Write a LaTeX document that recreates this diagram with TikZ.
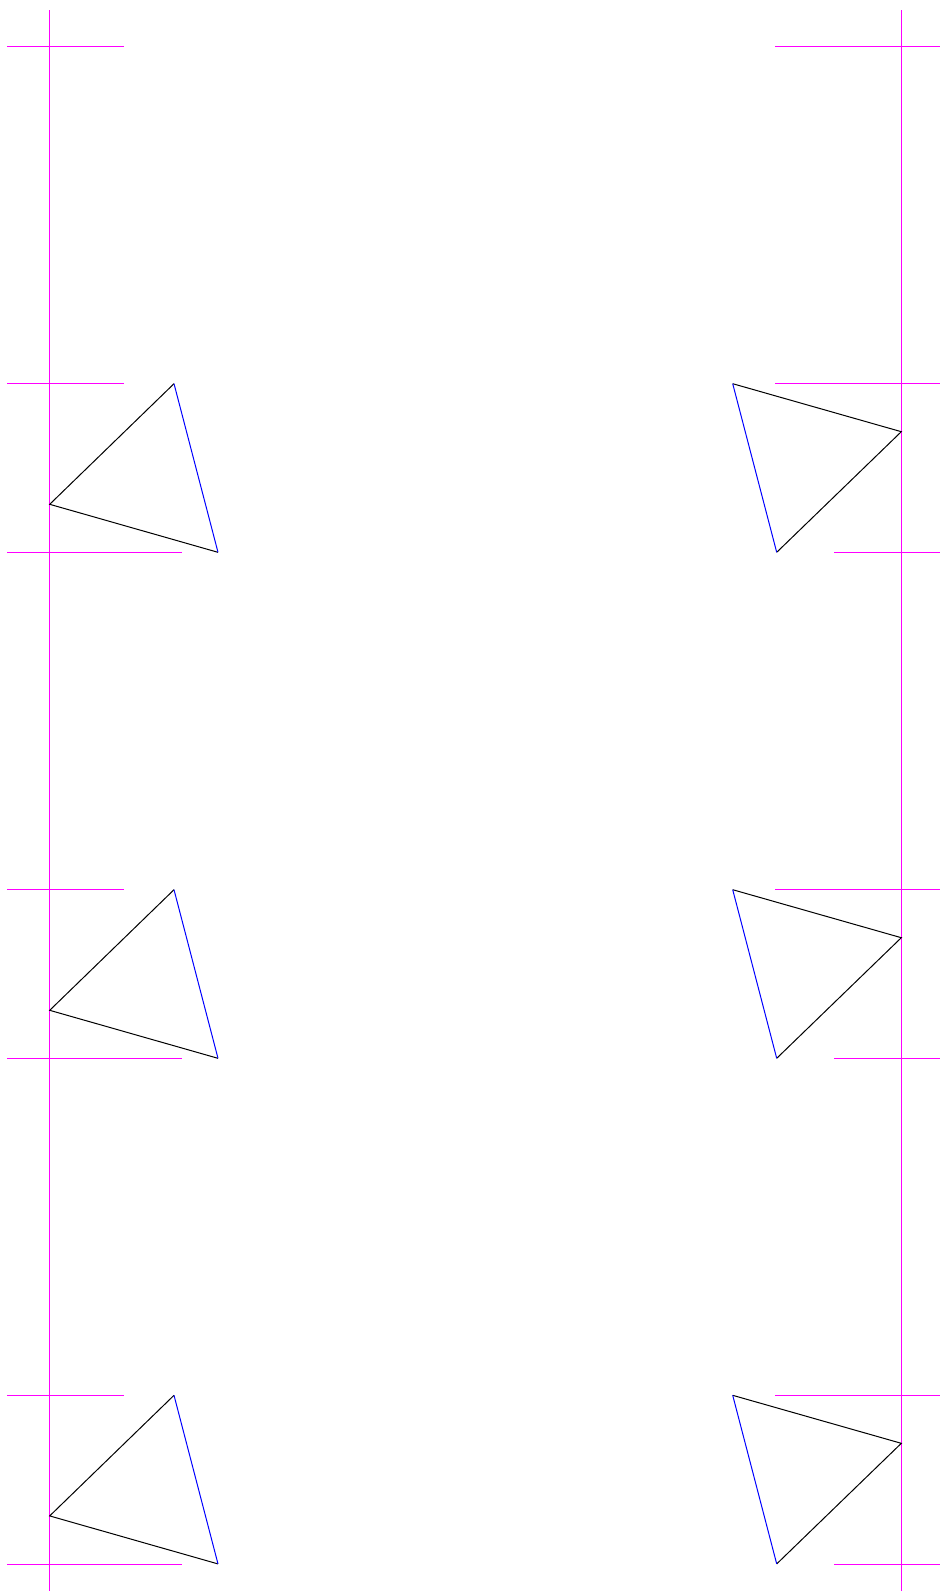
\documentclass[tikz,border=0pt]{standalone}
\usepackage{tikz}
\definecolor{guidepink}{RGB}{255,0,255}
\definecolor{hingeblue}{RGB}{0,0,255}

\begin{document}
\begin{tikzpicture}[x=0.02cm,y=-0.02cm,line width=0.57pt,
    guideline/.style={draw=guidepink},
    edge/.style={draw=black},
    hinge/.style={draw=hingeblue}]
      % Fix the page to the reference size
      \useasboundingbox (0,0) rectangle (940,1591);
      % Vertical guides and the top marks
      \draw[guideline] (49.7,10.3) -- (49.7,1591);
      \draw[guideline] (901.3,10.3) -- (901.3,1591);
      \draw[guideline] (7.3,46.3) -- (123.7,46.3);
      \draw[guideline] (775,46.3) -- (940,46.3);
      \foreach \y in {552.3,1058.3}
        \draw[guideline] (7.3,\y) -- (123.7,\y);
      % One pair of triangles per row
      \foreach \y in {383.7,889.7,1395.3} {
        \draw[guideline] (7.3,\y) -- (123.7,\y);
        \draw[guideline] (7.3,\y+168.9) -- (182,\y+168.9);
        \draw[guideline] (775,\y) -- (940,\y);
        \draw[guideline] (834.3,\y+169.2) -- (940,\y+169.2);
        \coordinate (left) at (49.7,\y+120.6);
        \coordinate (top) at (174,\y);
        \coordinate (bottom) at (218,\y+168.6);
        \draw[edge] (bottom) -- (left) -- (top);
        \draw[hinge] (top) -- (bottom);
        \coordinate (right) at (901.3,\y+48);
        \coordinate (topl) at (732.7,\y);
        \coordinate (bottoml) at (776.7,\y+168.6);
        \draw[edge] (topl) -- (right) -- (bottoml);
        \draw[hinge] (topl) -- (bottoml);
      }
\end{tikzpicture}
\end{document}
